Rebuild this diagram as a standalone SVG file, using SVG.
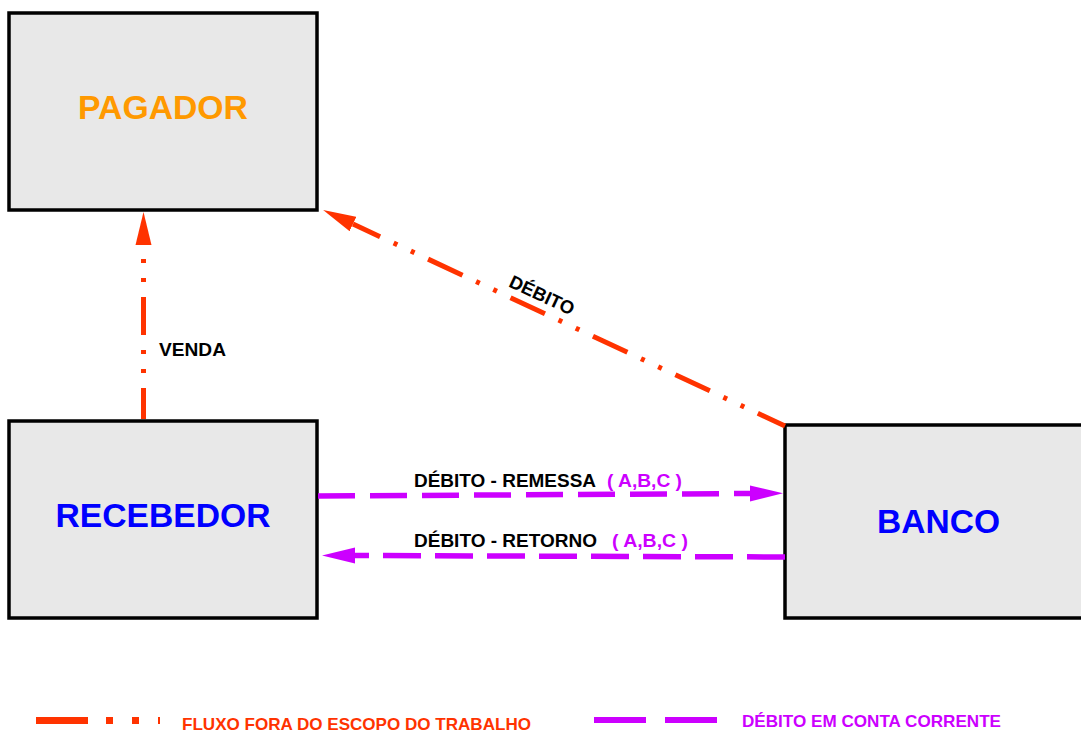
<svg xmlns="http://www.w3.org/2000/svg" width="1081" height="731" viewBox="0 0 1081 731">
<style>
.box{fill:#E8E8E8;stroke:#000;stroke-width:3.5}
.node{font-family:"Liberation Sans",Arial,sans-serif;font-weight:bold;font-size:34px;text-anchor:middle}
.lbl{font-family:"Liberation Sans",Arial,sans-serif;font-weight:bold;font-size:18.5px;fill:#000}
.abc{fill:#CC00FF}
.out{fill:none;stroke:#FF3300;stroke-width:5;stroke-dasharray:38 15 4 15 4 15;stroke-dashoffset:7}
.deb{fill:none;stroke:#CC00FF;stroke-width:5.5;stroke-dasharray:37 15}
.leg{font-family:"Liberation Sans",Arial,sans-serif;font-weight:bold;font-size:16.5px}
</style>
<defs>
<marker id="arrO" markerUnits="userSpaceOnUse" viewBox="0 -9 34 18" markerWidth="34" markerHeight="18" refX="0" refY="0" orient="auto">
<path d="M0,-8 L33,0 L0,8 z" fill="#FF3300"/>
</marker>
<marker id="arrP" markerUnits="userSpaceOnUse" viewBox="0 -9 34 18" markerWidth="34" markerHeight="18" refX="0" refY="0" orient="auto">
<path d="M0,-8 L33,0 L0,8 z" fill="#CC00FF"/>
</marker>
</defs>
<rect width="1081" height="731" fill="#fff"/>

<g id="pagador">
<rect class="box" x="9" y="13" width="308" height="197"/>
<text class="node" x="163" y="119" fill="#FF9900" textLength="170" lengthAdjust="spacingAndGlyphs">PAGADOR</text>
</g>
<g id="recebedor">
<rect class="box" x="9" y="421" width="308" height="197"/>
<text class="node" x="163" y="527" fill="#0000FF" textLength="215" lengthAdjust="spacingAndGlyphs">RECEBEDOR</text>
</g>
<g id="banco">
<rect class="box" x="785" y="425" width="320" height="193"/>
<text class="node" x="938.5" y="533" fill="#0000FF" textLength="123" lengthAdjust="spacingAndGlyphs">BANCO</text>
</g>

<g id="connectors">
<line class="out" x1="143.5" y1="419" x2="143.5" y2="245" marker-end="url(#arrO)"/>
<line class="out" x1="785" y1="426" x2="353" y2="224" style="stroke-dashoffset:8" marker-end="url(#arrO)"/>
<line class="deb" x1="318" y1="496" x2="750" y2="493.5" marker-end="url(#arrP)"/>
<line class="deb" x1="785" y1="557" x2="355" y2="555.5" style="stroke-dasharray:38 14" marker-end="url(#arrP)"/>
</g>

<g id="labels">
<text class="lbl" x="159" y="356" textLength="67" lengthAdjust="spacingAndGlyphs">VENDA</text>
<text class="lbl" transform="translate(542,295) rotate(25)" x="0" y="6.5" text-anchor="middle" style="font-size:18.5px">DÉBITO</text>
<text class="lbl" x="414" y="487" textLength="182" lengthAdjust="spacingAndGlyphs">DÉBITO - REMESSA</text>
<text class="lbl abc" x="607" y="487" textLength="75" lengthAdjust="spacingAndGlyphs">( A,B,C )</text>
<text class="lbl" x="414" y="547" textLength="183" lengthAdjust="spacingAndGlyphs">DÉBITO - RETORNO</text>
<text class="lbl abc" x="612" y="547" textLength="76" lengthAdjust="spacingAndGlyphs">( A,B,C )</text>
</g>

<g id="legend">
<line x1="36" y1="720.5" x2="160" y2="720.5" stroke="#FF3300" stroke-width="7" stroke-dasharray="52 18 7 19 7 19 2 100"/>
<text class="leg" x="182" y="730" fill="#FF3300" textLength="349" lengthAdjust="spacingAndGlyphs">FLUXO FORA DO ESCOPO DO TRABALHO</text>
<line x1="594" y1="720" x2="717" y2="720" stroke="#CC00FF" stroke-width="6" stroke-dasharray="52 19"/>
<text class="leg" x="742" y="727" fill="#CC00FF" textLength="259" lengthAdjust="spacingAndGlyphs">DÉBITO EM CONTA CORRENTE</text>
</g>
</svg>
